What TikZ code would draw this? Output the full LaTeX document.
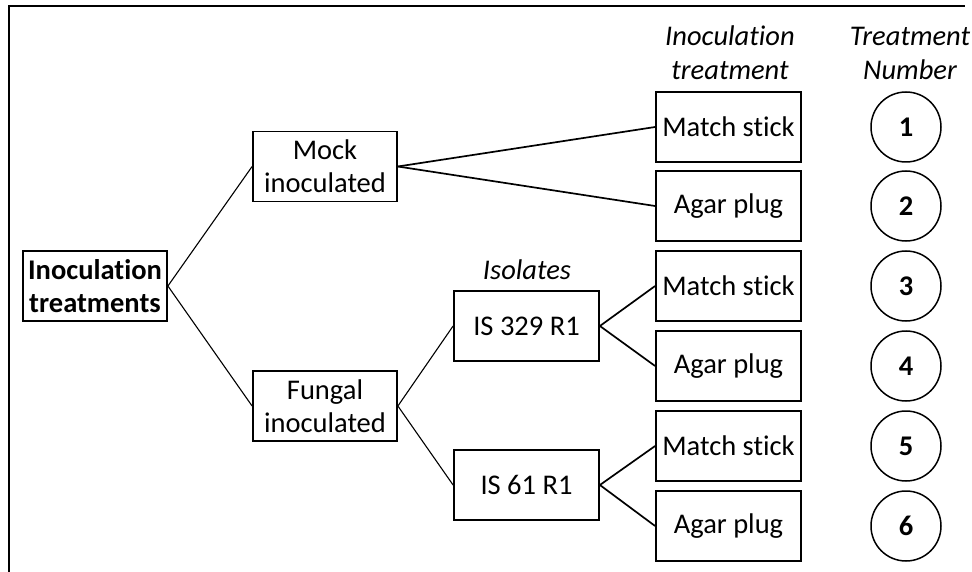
\documentclass[tikz,border=0pt]{standalone}
\usepackage{fontspec}
\setmainfont[RawFeature=-liga]{Carlito}
\begin{document}
\begin{tikzpicture}[x=1pt,y=-1pt,
  txt/.style={font=\fontsize{28.5}{33}\selectfont},
  box/.style={draw,line width=1.8pt,minimum width=144pt,minimum height=70pt,
    inner sep=0pt,align=center,txt},
  leaf/.style={box,minimum width=145pt},
  num/.style={draw,circle,line width=1.5pt,minimum size=70pt,inner sep=0pt,
    font=\fontsize{28.5}{33}\selectfont\bfseries},
  head/.style={align=center,font=\fontsize{28.5}{34}\selectfont\itshape},
  link/.style={line width=1.1pt},
  linkb/.style={line width=1.7pt}]
\useasboundingbox (0,0) rectangle (972,572);
% open frame: top and left edges only
\draw[line width=2.6pt] (9,572) -- (9,6) -- (965,6);

\node[box,font=\fontsize{28.5}{33}\selectfont\bfseries] (root) at (95,286) {Inoculation\\treatments};
\node[box] (mock) at (325,166.5) {Mock\\inoculated};
\node[box] (fung) at (325,406) {Fungal\\inoculated};
\node[box,minimum width=145pt] (is329) at (526.5,326) {IS 329 R1};
\node[box,minimum width=145pt] (is61) at (526.5,485) {IS 61 R1};
\node[head] (isol) at (527,270) {Isolates};

\node[head] (hinoc) at (730,53) {Inoculation\\treatment};
\node[head] (hnum) at (910,53) {Treatment\\Number};

\foreach \i/\y/\t in {1/127/Match stick,2/206/Agar plug,3/286/Match stick,
                      4/366/Agar plug,5/446/Match stick,6/526/Agar plug}{
  \node[leaf] (L\i) at (728.5,\y) {\t};
  \node[num] (N\i) at (906,\y) {\i};
}

\draw[link] (root.east) -- (mock.west);
\draw[link] (root.east) -- (fung.west);
\draw[linkb] (mock.east) -- (L1.west);
\draw[linkb] (mock.east) -- (L2.west);
\draw[link] (fung.east) -- (is329.west);
\draw[link] (fung.east) -- (is61.west);
\draw[linkb] (is329.east) -- (L3.west);
\draw[linkb] (is329.east) -- (L4.west);
\draw[linkb] (is61.east) -- (L5.west);
\draw[linkb] (is61.east) -- (L6.west);
\end{tikzpicture}
\end{document}
